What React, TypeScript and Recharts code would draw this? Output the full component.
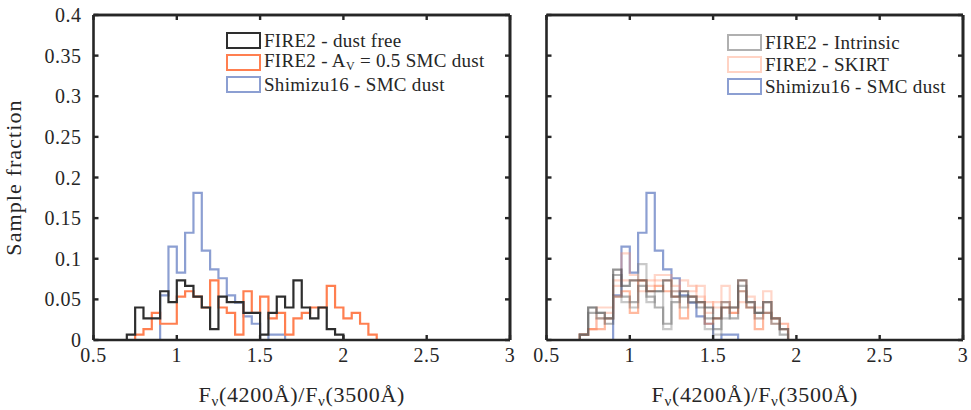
import React from 'react';
import { LineChart, Line, XAxis, YAxis, ReferenceLine } from 'recharts';

// ---------- data ----------
const binEdges = [0.7, 0.75, 0.8, 0.85, 0.9, 0.95, 1.0, 1.05, 1.1, 1.15, 1.2, 1.25, 1.3, 1.35, 1.4, 1.45, 1.5,
  1.55, 1.6, 1.65, 1.7, 1.75, 1.8, 1.85, 1.9, 1.95, 2.0, 2.05, 2.1, 2.15, 2.2];
const xTicks = [0.5, 1, 1.5, 2, 2.5, 3];
const yTicks = [0, 0.05, 0.1, 0.15, 0.2, 0.25, 0.3, 0.35, 0.4];

// left panel
const dustFreeStart = 0.7;
const dustFree = [0.0067, 0.04, 0.0267, 0.0267, 0.06, 0.0467, 0.0733, 0.0667, 0.0533, 0.04, 0.0133, 0.0533, 0.0467,
  0.0467, 0.0333, 0.0333, 0.0067, 0.0333, 0.0533, 0.04, 0.0733, 0.04, 0.0267, 0.04, 0.0133, 0.0067];
const av05Start = 0.75;
const av05 = [0.0067, 0.0133, 0.0333, 0.02, 0.02, 0.0533, 0.06, 0.0533, 0.04, 0.0733, 0.04, 0.0333, 0.0067, 0.06,
  0.0333, 0.0533, 0.0267, 0.0333, 0.0067, 0.0267, 0.0333, 0.04, 0.04, 0.0667, 0.04, 0.0267, 0.0333, 0.02, 0.0067];
const shimizuStart = 0.9;
const shimizu = [0.055, 0.115, 0.083, 0.132, 0.181, 0.11, 0.087, 0.076, 0.055, 0.046, 0.029, 0.02, 0, 0.0067, 0.0067];

// right panel
const rightStart = 0.7;
const intrinsicA = [0.0067, 0.04, 0.0333, 0.0267, 0.0867, 0.0667, 0.0733, 0.0733, 0.06, 0.06, 0.0733, 0.0533, 0.06,
  0.0533, 0.0467, 0.04, 0.0267, 0.04, 0.04, 0.0733, 0.0467, 0.0333, 0.0467, 0.0267, 0.0133];
const intrinsicB = [0.0067, 0.0333, 0.0267, 0.02, 0.08, 0.0533, 0.0467, 0.0667, 0.0533, 0.04, 0.02, 0.0467, 0.0533,
  0.0467, 0.04, 0.0267, 0.0133, 0.0467, 0.0267, 0.0667, 0.04, 0.0333, 0.0333, 0.02, 0.0067];
const intrinsicC = [0.0067, 0.04, 0.0333, 0.0267, 0.0533, 0.0467, 0.04, 0.0933, 0.0467, 0.06, 0.0133, 0.06, 0.04,
  0.0533, 0.0467, 0.0133, 0.0067, 0.0267, 0.04, 0.06, 0.0467, 0.0267, 0.0467, 0.0267, 0.0133];
const skirtX = [0.0067, 0.0133, 0.04, 0.04, 0.0733, 0.1067, 0.08, 0.0733, 0.0733, 0.08, 0.08, 0.06, 0.0733, 0.0667,
  0.0533, 0.0333, 0.0467, 0.0667, 0.04, 0.0733, 0.0533, 0.04, 0.06, 0.0267, 0.02];
const skirtY = [0.0067, 0.0133, 0.0267, 0.0333, 0.0667, 0.0733, 0.0733, 0.06, 0.0667, 0.0733, 0.0733, 0.0667, 0.06,
  0.06, 0.0667, 0.0467, 0.04, 0.0467, 0.0333, 0.0467, 0.0467, 0.0267, 0.0467, 0.02, 0.02];
const skirtZ = [0.0067, 0.0133, 0.0133, 0.0267, 0.0533, 0.06, 0.0333, 0.0733, 0.06, 0.0667, 0.06, 0.0533, 0.0267,
  0.0533, 0.0467, 0.02, 0.0267, 0.04, 0.0333, 0.06, 0.04, 0.0133, 0.0333, 0.0267, 0.0133];

// ---------- helpers ----------
function stairs(start: number, values: number[]) {
  const i0 = binEdges.findIndex((e) => Math.abs(e - start) < 1e-9);
  const pts = [{ x: binEdges[i0], y: 0 }];
  values.forEach((v, i) => pts.push({ x: binEdges[i0 + i], y: v }));
  pts.push({ x: binEdges[i0 + values.length], y: 0 });
  return pts;
}

const INK = '#262626';
const FONT = '"Liberation Serif", "Times New Roman", serif';
const BLACK = '#2e2e2e';
const ORANGE = '#ff7f50';
const BLUE = '#8c9fd2';

const axisLine = { stroke: INK, strokeWidth: 2.6 };
const tickLine = { stroke: INK, strokeWidth: 2.4 };
const tickStyle = { fontFamily: FONT, fontSize: 20, fill: INK, letterSpacing: 0.5 };
const blankTick = () => '';

function XLabel(props: any) {
  const vb = props.viewBox || { x: 0, y: 0, width: 0 };
  const cx = vb.x + vb.width / 2;
  return (
    <text x={cx} y={vb.y + 62} textAnchor="middle" fontFamily={FONT} fontSize={22} fill={INK} letterSpacing={0.7}>
      <tspan>F</tspan>
      <tspan fontSize={15} dy={4}>ν</tspan>
      <tspan dy={-4}>(4200Å)/F</tspan>
      <tspan fontSize={15} dy={4}>ν</tspan>
      <tspan dy={-4}>(3500Å)</tspan>
    </text>
  );
}

function YLabel() {
  return (
    <text x={21} y={177.5} transform="rotate(-90 21 177.5)" textAnchor="middle" fontFamily={FONT} fontSize={22}
      fill={INK} letterSpacing={1.1}>
      Sample fraction
    </text>
  );
}

type Item = { color: string; label: React.ReactNode };

function LegendBox({ items, left, top }: { items: Item[]; left: number; top: number }) {
  return (
    <div style={{ position: 'absolute', left, top, fontFamily: FONT, fontSize: 19, letterSpacing: 0.3, color: INK,
      lineHeight: '21px' }}>
      {items.map((it, i) => (
        <div key={i} style={{ display: 'flex', alignItems: 'center', height: 22, whiteSpace: 'nowrap' }}>
          <span style={{ display: 'inline-block', width: 31, height: 13, border: `2px solid ${it.color}`,
            background: '#fff', marginRight: 3 }} />
          <span style={{ lineHeight: '21px' }}>{it.label}</span>
        </div>
      ))}
    </div>
  );
}

const leftItems: Item[] = [
  { color: BLACK, label: 'FIRE2 - dust free' },
  { color: ORANGE, label: <>FIRE2 - A<span style={{ fontSize: 12, position: 'relative', top: 3 }}>V</span> = 0.5 SMC dust</> },
  { color: BLUE, label: 'Shimizu16 - SMC dust' },
];
const rightItems: Item[] = [
  { color: '#b0b0b0', label: 'FIRE2 - Intrinsic' },
  { color: '#ffd3c4', label: 'FIRE2 - SKIRT' },
  { color: BLUE, label: 'Shimizu16 - SMC dust' },
];

function Frame(showYLabels: boolean, yWidth: number) {
  return [
    <XAxis key="xb" xAxisId={0} dataKey="x" type="number" domain={[0.5, 3]} ticks={xTicks} height={45}
      axisLine={axisLine} tickLine={tickLine} tickSize={-5} tickMargin={13} tick={tickStyle}
      allowDataOverflow label={<XLabel />} />,
    <XAxis key="xt" xAxisId="top" orientation="top" dataKey="x" type="number" domain={[0.5, 3]} ticks={xTicks}
      height={1} axisLine={axisLine} tickLine={tickLine} tickSize={-5} tickFormatter={blankTick}
      allowDataOverflow />,
    <YAxis key="yl" yAxisId={0} type="number" domain={[0, 0.4]} ticks={yTicks} width={yWidth}
      axisLine={axisLine} tickLine={tickLine} tickSize={-5} tickMargin={17}
      tick={tickStyle} tickFormatter={showYLabels ? undefined : blankTick} allowDataOverflow
      label={showYLabels ? <YLabel /> : undefined} />,
    <YAxis key="yr" yAxisId="right" orientation="right" type="number" domain={[0, 0.4]} ticks={yTicks} width={1}
      axisLine={axisLine} tickLine={tickLine} tickSize={-5} tickFormatter={blankTick} allowDataOverflow />,
    <ReferenceLine key="rt" y={0.4} stroke={INK} strokeWidth={2.6} ifOverflow="visible" />,
    <ReferenceLine key="rr" x={3} stroke={INK} strokeWidth={2.6} ifOverflow="visible" />,
  ];
}

function Stair({ data, color, width = 2.2, opacity = 1, k }: any) {
  return (
    <Line key={k} data={data} dataKey="y" type="stepAfter" stroke={color} strokeWidth={width}
      strokeOpacity={opacity} dot={false} activeDot={false} isAnimationActive={false} legendType="none" />
  );
}

export default function App() {
  return (
    <div style={{ position: 'absolute', left: 0, top: 0, width: 971, height: 410, background: '#fff',
      fontFamily: FONT }}>
      <div style={{ position: 'absolute', left: 0, top: 0 }}>
        <LineChart width={530} height={410} margin={{ top: 14, right: 19, bottom: 25, left: 0 }}
          style={{ fontFamily: FONT }}>
          {Frame(true, 93.5)}
          {Stair({ k: 'b', data: stairs(shimizuStart, shimizu), color: BLUE })}
          {Stair({ k: 'o', data: stairs(av05Start, av05), color: ORANGE })}
          {Stair({ k: 'k', data: stairs(dustFreeStart, dustFree), color: BLACK })}
        </LineChart>
      </div>
      <div style={{ position: 'absolute', left: 530, top: 0 }}>
        <LineChart width={441} height={410} margin={{ top: 14, right: 7, bottom: 25, left: 0 }}
          style={{ fontFamily: FONT }}>
          {Frame(false, 16.5)}
          {Stair({ k: 'b', data: stairs(shimizuStart, shimizu), color: BLUE })}
          {Stair({ k: 'sx', data: stairs(rightStart, skirtX), color: '#ff8a65', opacity: 0.35 })}
          {Stair({ k: 'sy', data: stairs(rightStart, skirtY), color: '#ff8a65', opacity: 0.35 })}
          {Stair({ k: 'sz', data: stairs(rightStart, skirtZ), color: '#ff7f50', opacity: 0.55 })}
          {Stair({ k: 'ia', data: stairs(rightStart, intrinsicA), color: '#3a3a3a', opacity: 0.55 })}
          {Stair({ k: 'ib', data: stairs(rightStart, intrinsicB), color: '#555555', opacity: 0.45 })}
          {Stair({ k: 'ic', data: stairs(rightStart, intrinsicC), color: '#777777', opacity: 0.4 })}
        </LineChart>
      </div>
      <LegendBox items={leftItems} left={226} top={29} />
      <LegendBox items={rightItems} left={727} top={31} />
    </div>
  );
}
